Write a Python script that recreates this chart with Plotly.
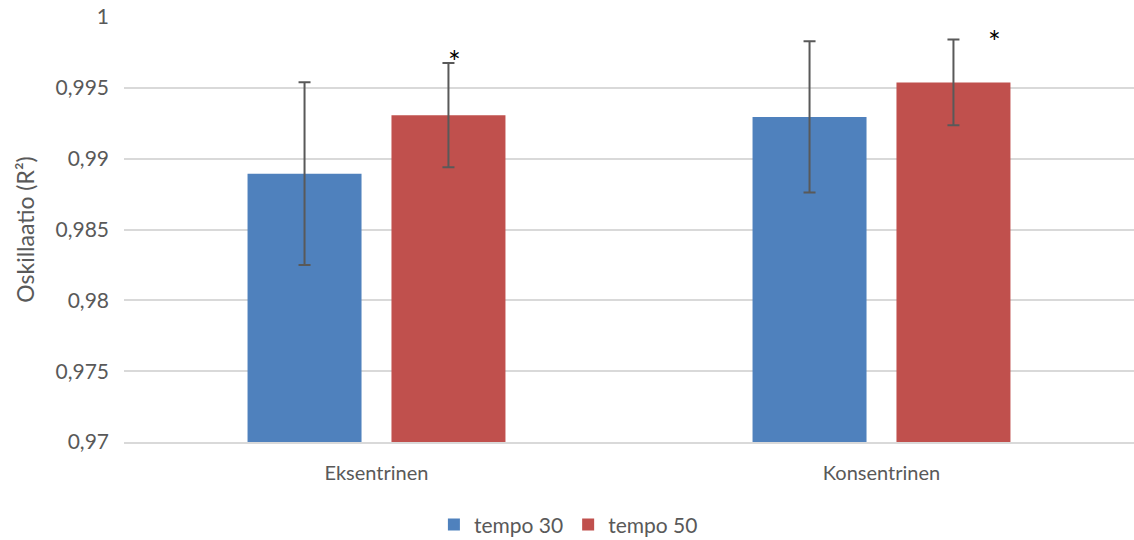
import plotly.graph_objects as go

categories = ["Eksentrinen", "Konsentrinen"]
series_names = ["tempo 30", "tempo 50"]
tempo30 = [0.98894, 0.99295]
tempo30_err = [0.00645, 0.00534]
tempo50 = [0.99307, 0.99538]
tempo50_err = [0.00368, 0.00303]
colors = ["#4F81BD", "#C0504D"]
font_family = "Lato, 'Open Sans', sans-serif"

fig = go.Figure()
for name, vals, errs, col in zip(series_names, [tempo30, tempo50], [tempo30_err, tempo50_err], colors):
    fig.add_trace(go.Bar(
        x=categories, y=vals, name=name, marker=dict(color=col, line=dict(width=0)),
        error_y=dict(type="data", array=errs, visible=True, color="#595959", thickness=2, width=6),
    ))

# significance markers
fig.add_annotation(x=categories[0], y=tempo50[0] + tempo50_err[0], text="*", showarrow=False,
                   xshift=78, yshift=2, font=dict(size=30, color="black", family=font_family))
fig.add_annotation(x=categories[1], y=tempo50[1] + tempo50_err[1], text="*", showarrow=False,
                   xshift=113, yshift=-1, font=dict(size=30, color="black", family=font_family))

fig.update_layout(
    width=1134, height=540,
    margin=dict(l=124, r=0, t=17, b=98, autoexpand=False),
    paper_bgcolor="white", plot_bgcolor="white",
    barmode="group", bargap=0.43, bargroupgap=0.208,
    separators=", ",
    font=dict(family=font_family, color="#595959", size=20),
    showlegend=True,
    legend=dict(orientation="h", x=0.44, xanchor="center", yref="container", y=0.028, yanchor="middle",
                font=dict(size=21, color="#595959"), itemwidth=30),
    yaxis=dict(range=[0.97, 1.0], dtick=0.005, showgrid=True, gridcolor="#D9D9D9", gridwidth=1.5,
               zeroline=False, showline=False, ticks="", ticklabelstandoff=14, automargin=False,
               tickfont=dict(size=21, color="#595959"),
               title=dict(text="Oskillaatio (R²)", font=dict(size=23, color="#595959"), standoff=14)),
    xaxis=dict(showline=True, linecolor="#D9D9D9", linewidth=1.5, ticks="", ticklabelstandoff=12,
               automargin=False, tickfont=dict(size=20, color="#595959")),
)

fig.write_html("out.html")
